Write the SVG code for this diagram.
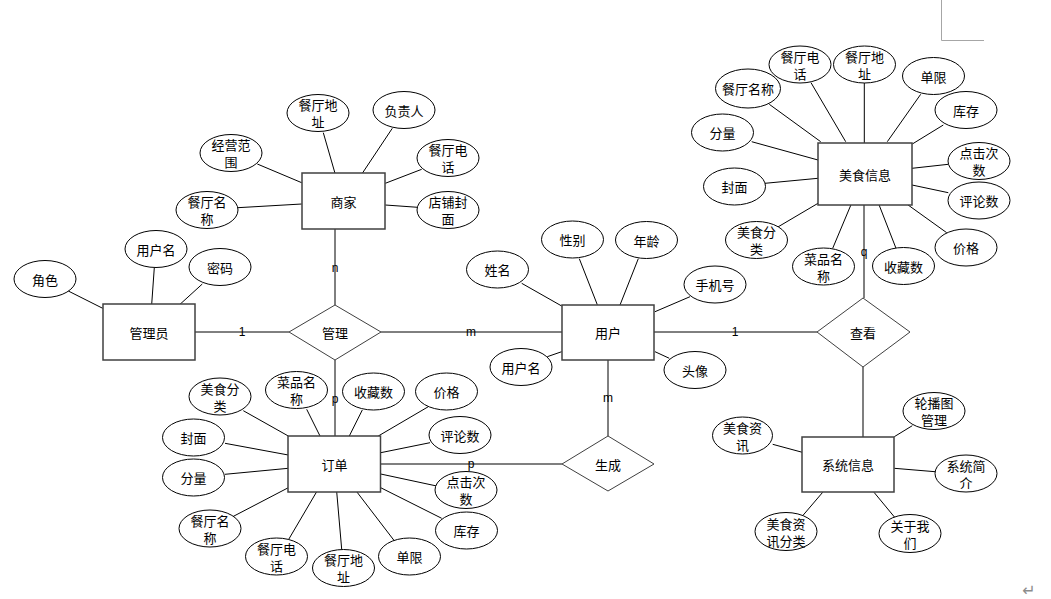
<svg xmlns="http://www.w3.org/2000/svg" width="1051" height="599" viewBox="0 0 1051 599">
<style>
  text { font-family: "Noto Sans CJK SC", "Liberation Sans", sans-serif; font-size: 13px; fill: #000; text-anchor: middle; dominant-baseline: central; }
  .ent rect { fill: #fff; stroke: #404040; stroke-width: 1.5; }
  .rel polygon { fill: #fff; stroke: #404040; stroke-width: 1; }
  .attr ellipse { fill: #fff; stroke: #000; stroke-width: 1; }
  #connectors line { stroke: #000; stroke-width: 1; }
  #connectors line.thick { stroke: #555; stroke-width: 1.5; }
  .card { font-family: "Liberation Sans", "DejaVu Sans", sans-serif; font-size: 12px; }
</style>
<rect width="1051" height="599" fill="#fff"/>
<path d="M941.5,0 V40.5 H984" fill="none" stroke="#a6a6a6" stroke-width="1"/>

<g id="connectors">
  <!-- relationship lines -->
  <line x1="195" y1="332" x2="289" y2="332"/>
  <line x1="381" y1="332" x2="562" y2="332"/>
  <line x1="335" y1="229" x2="335" y2="305"/>
  <line x1="335" y1="360" x2="335" y2="436"/>
  <line class="thick" x1="380.5" y1="464" x2="562" y2="464"/>
  <line x1="608" y1="360" x2="608" y2="436"/>
  <line x1="654" y1="332" x2="817" y2="332"/>
  <line x1="864" y1="205" x2="864" y2="298"/>
  <line class="thick" x1="863" y1="367" x2="863" y2="437"/>
  <!-- 商家 attributes -->
  <line x1="323.3" y1="132.7" x2="335" y2="173.3"/>
  <line x1="392.3" y1="128.3" x2="362.3" y2="173.3"/>
  <line x1="421.7" y1="169.3" x2="385.3" y2="183.3"/>
  <line x1="417.7" y1="207.3" x2="385.3" y2="205"/>
  <line x1="257.3" y1="164" x2="301.7" y2="182.7"/>
  <line x1="237.7" y1="207.7" x2="301.7" y2="204"/>
  <!-- 管理员 attributes -->
  <line x1="154.3" y1="267.7" x2="151.7" y2="304.3"/>
  <line x1="202.3" y1="284" x2="180" y2="304.3"/>
  <line x1="68.3" y1="291" x2="102.7" y2="308.3"/>
  <!-- 用户 attributes -->
  <line x1="521.7" y1="283.3" x2="561.7" y2="306"/>
  <line x1="579.3" y1="258.7" x2="597.3" y2="304.7"/>
  <line x1="638.3" y1="258.7" x2="620" y2="305"/>
  <line x1="690" y1="296.7" x2="655" y2="311.7"/>
  <line x1="547.3" y1="356.7" x2="561.7" y2="351.7"/>
  <line x1="669.3" y1="358.3" x2="655" y2="351.7"/>
  <!-- 美食信息 attributes -->
  <line x1="769.3" y1="104.3" x2="820.7" y2="141.7"/>
  <line x1="811" y1="82.7" x2="845.7" y2="141.7"/>
  <line x1="864.3" y1="83" x2="864.3" y2="143"/>
  <line x1="920.7" y1="94.3" x2="887.3" y2="141.7"/>
  <line x1="943.3" y1="125" x2="912.3" y2="144"/>
  <line x1="948.3" y1="164.3" x2="912" y2="168.3"/>
  <line x1="948.3" y1="192.7" x2="912" y2="185"/>
  <line x1="946.7" y1="232.7" x2="907.7" y2="204.7"/>
  <line x1="896" y1="248.3" x2="879" y2="204.7"/>
  <line x1="832.7" y1="248.3" x2="851" y2="204.7"/>
  <line x1="776.7" y1="227.7" x2="818" y2="203.3"/>
  <line x1="765" y1="183.3" x2="818" y2="178.3"/>
  <line x1="751.7" y1="141.7" x2="818" y2="160"/>
  <!-- 订单 attributes -->
  <line x1="243.3" y1="410.7" x2="288.3" y2="436"/>
  <line x1="306.7" y1="409.3" x2="320" y2="436"/>
  <line x1="362.3" y1="410" x2="349.3" y2="436"/>
  <line x1="428.3" y1="406.7" x2="378.3" y2="436"/>
  <line x1="430" y1="442.7" x2="380.7" y2="452.7"/>
  <line x1="436.7" y1="486" x2="380.7" y2="474"/>
  <line x1="441.7" y1="518.3" x2="380.7" y2="487.7"/>
  <line x1="395" y1="541.7" x2="356.7" y2="491.7"/>
  <line x1="341.7" y1="549.3" x2="336.7" y2="491.7"/>
  <line x1="288.3" y1="540" x2="316.7" y2="491.7"/>
  <line x1="232.7" y1="516.7" x2="288.3" y2="487.7"/>
  <line x1="225" y1="474.3" x2="288.3" y2="468.3"/>
  <line x1="225" y1="443.3" x2="288.3" y2="455"/>
  <!-- 系统信息 attributes -->
  <line x1="912.3" y1="425.7" x2="894.3" y2="436.7"/>
  <line x1="772.7" y1="444.3" x2="802.3" y2="452.3"/>
  <line x1="935" y1="471.7" x2="894.3" y2="468.3"/>
  <line x1="802.7" y1="515.7" x2="822.7" y2="492.3"/>
  <line x1="895" y1="517.7" x2="874" y2="492.3"/>
  <!-- cardinalities -->
  <text class="card" x="242" y="332">1</text>
  <text class="card" x="471" y="332">m</text>
  <text class="card" x="335" y="268">n</text>
  <text class="card" x="335" y="399">p</text>
  <text class="card" x="471" y="464">p</text>
  <text class="card" x="608" y="398">m</text>
  <text class="card" x="735" y="332">1</text>
  <text class="card" x="864" y="252">q</text>
</g>

<!-- Entities -->
<g id="e_merchant" class="ent"><rect x="302" y="173" width="83" height="56"/><text x="343.5" y="201">商家</text></g>
<g id="e_admin" class="ent"><rect x="103" y="304" width="92" height="56"/><text x="149" y="332">管理员</text></g>
<g id="e_user" class="ent"><rect x="562" y="305" width="92" height="55"/><text x="608" y="332">用户</text></g>
<g id="e_food" class="ent"><rect x="818" y="143" width="94" height="62"/><text x="865" y="174">美食信息</text></g>
<g id="e_order" class="ent"><rect x="288" y="436" width="92.5" height="56"/><text x="334.5" y="464">订单</text></g>
<g id="e_sys" class="ent"><rect x="802" y="437" width="92" height="55"/><text x="848" y="464.5">系统信息</text></g>

<!-- Relationships -->
<g id="r_manage" class="rel"><polygon points="289,332 335,305 381,332 335,360"/><text x="335" y="332">管理</text></g>
<g id="r_generate" class="rel"><polygon points="562,464 608,436 654,464 608,491"/><text x="608" y="464">生成</text></g>
<g id="r_view" class="rel"><polygon points="817,332 863,298 910,332 863,367"/><text x="863" y="332">查看</text></g>

<!-- 商家 attributes -->
<g id="a_m_addr" class="attr"><ellipse cx="318" cy="113" rx="31" ry="18.5"/><text x="318" y="104.5">餐厅地</text><text x="318" y="121.5">址</text></g>
<g id="a_m_owner" class="attr"><ellipse cx="404" cy="110" rx="31" ry="18.5"/><text x="404" y="110">负责人</text></g>
<g id="a_m_scope" class="attr"><ellipse cx="231" cy="153" rx="31" ry="18.5"/><text x="231" y="144.5">经营范</text><text x="231" y="161.5">围</text></g>
<g id="a_m_tel" class="attr"><ellipse cx="448" cy="158" rx="31" ry="18.5"/><text x="448" y="149.5">餐厅电</text><text x="448" y="166.5">话</text></g>
<g id="a_m_name" class="attr"><ellipse cx="207" cy="210" rx="31" ry="18.5"/><text x="207" y="201.5">餐厅名</text><text x="207" y="218.5">称</text></g>
<g id="a_m_cover" class="attr"><ellipse cx="448" cy="210" rx="31" ry="18.5"/><text x="448" y="201.5">店铺封</text><text x="448" y="218.5">面</text></g>

<!-- 管理员 attributes -->
<g id="a_a_user" class="attr"><ellipse cx="156" cy="249" rx="31" ry="18.5"/><text x="156" y="249">用户名</text></g>
<g id="a_a_pwd" class="attr"><ellipse cx="220" cy="267" rx="31" ry="18.5"/><text x="220" y="267">密码</text></g>
<g id="a_a_role" class="attr"><ellipse cx="45" cy="279" rx="31" ry="18.5"/><text x="45" y="279">角色</text></g>

<!-- 用户 attributes -->
<g id="a_u_name" class="attr"><ellipse cx="497.5" cy="269.5" rx="31" ry="18.5"/><text x="497.5" y="269.5">姓名</text></g>
<g id="a_u_sex" class="attr"><ellipse cx="572.5" cy="239.5" rx="31" ry="18.5"/><text x="572.5" y="239.5">性别</text></g>
<g id="a_u_age" class="attr"><ellipse cx="646.5" cy="240" rx="31" ry="18.5"/><text x="646.5" y="240">年龄</text></g>
<g id="a_u_phone" class="attr"><ellipse cx="715" cy="284.5" rx="31" ry="18.5"/><text x="715" y="284.5">手机号</text></g>
<g id="a_u_uname" class="attr"><ellipse cx="521" cy="367" rx="31" ry="18.5"/><text x="521" y="367">用户名</text></g>
<g id="a_u_avatar" class="attr"><ellipse cx="695" cy="370" rx="31" ry="18.5"/><text x="695" y="370">头像</text></g>

<!-- 美食信息 attributes -->
<g id="a_f_rname" class="attr"><ellipse cx="748" cy="88.5" rx="32.5" ry="19.5"/><text x="748" y="88.5">餐厅名称</text></g>
<g id="a_f_tel" class="attr"><ellipse cx="800" cy="64.5" rx="31" ry="18.5"/><text x="800" y="56">餐厅电</text><text x="800" y="73">话</text></g>
<g id="a_f_addr" class="attr"><ellipse cx="864.5" cy="64.5" rx="31" ry="18.5"/><text x="864.5" y="56">餐厅地</text><text x="864.5" y="73">址</text></g>
<g id="a_f_limit" class="attr"><ellipse cx="933.5" cy="76" rx="31" ry="18.5"/><text x="933.5" y="76">单限</text></g>
<g id="a_f_stock" class="attr"><ellipse cx="966" cy="110" rx="31" ry="18.5"/><text x="966" y="110">库存</text></g>
<g id="a_f_clicks" class="attr"><ellipse cx="979" cy="161" rx="31" ry="18.5"/><text x="979" y="152.5">点击次</text><text x="979" y="169.5">数</text></g>
<g id="a_f_reviews" class="attr"><ellipse cx="979" cy="200.5" rx="31" ry="18.5"/><text x="979" y="200.5">评论数</text></g>
<g id="a_f_price" class="attr"><ellipse cx="966" cy="247.5" rx="31" ry="18.5"/><text x="966" y="247.5">价格</text></g>
<g id="a_f_fav" class="attr"><ellipse cx="903.5" cy="266" rx="31" ry="18.5"/><text x="903.5" y="266">收藏数</text></g>
<g id="a_f_dish" class="attr"><ellipse cx="823.5" cy="266.5" rx="31" ry="18.5"/><text x="823.5" y="258">菜品名</text><text x="823.5" y="275">称</text></g>
<g id="a_f_cat" class="attr"><ellipse cx="756.5" cy="240" rx="31" ry="18.5"/><text x="756.5" y="231.5">美食分</text><text x="756.5" y="248.5">类</text></g>
<g id="a_f_cover" class="attr"><ellipse cx="734.5" cy="186.5" rx="31" ry="18.5"/><text x="734.5" y="186.5">封面</text></g>
<g id="a_f_portion" class="attr"><ellipse cx="722.5" cy="132.5" rx="31" ry="18.5"/><text x="722.5" y="132.5">分量</text></g>

<!-- 订单 attributes -->
<g id="a_o_cat" class="attr"><ellipse cx="220" cy="396.5" rx="31" ry="18.5"/><text x="220" y="388">美食分</text><text x="220" y="405">类</text></g>
<g id="a_o_dish" class="attr"><ellipse cx="296.5" cy="390" rx="31" ry="18.5"/><text x="296.5" y="381.5">菜品名</text><text x="296.5" y="398.5">称</text></g>
<g id="a_o_fav" class="attr"><ellipse cx="373.5" cy="391.5" rx="31" ry="18.5"/><text x="373.5" y="391.5">收藏数</text></g>
<g id="a_o_price" class="attr"><ellipse cx="446.5" cy="391.5" rx="31" ry="18.5"/><text x="446.5" y="391.5">价格</text></g>
<g id="a_o_reviews" class="attr"><ellipse cx="460" cy="435" rx="31" ry="18.5"/><text x="460" y="435">评论数</text></g>
<g id="a_o_clicks" class="attr"><ellipse cx="466" cy="490" rx="31" ry="18.5"/><text x="466" y="481.5">点击次</text><text x="466" y="498.5">数</text></g>
<g id="a_o_stock" class="attr"><ellipse cx="466.5" cy="530.5" rx="31" ry="18.5"/><text x="466.5" y="530.5">库存</text></g>
<g id="a_o_limit" class="attr"><ellipse cx="409.5" cy="556.5" rx="31" ry="18.5"/><text x="409.5" y="556.5">单限</text></g>
<g id="a_o_addr" class="attr"><ellipse cx="343.5" cy="568" rx="31" ry="18.5"/><text x="343.5" y="559.5">餐厅地</text><text x="343.5" y="576.5">址</text></g>
<g id="a_o_tel" class="attr"><ellipse cx="276.5" cy="556.5" rx="31" ry="18.5"/><text x="276.5" y="548">餐厅电</text><text x="276.5" y="565">话</text></g>
<g id="a_o_rname" class="attr"><ellipse cx="210" cy="528.5" rx="31" ry="18.5"/><text x="210" y="520">餐厅名</text><text x="210" y="537">称</text></g>
<g id="a_o_portion" class="attr"><ellipse cx="193.5" cy="477.5" rx="31" ry="18.5"/><text x="193.5" y="477.5">分量</text></g>
<g id="a_o_cover" class="attr"><ellipse cx="193.5" cy="437.5" rx="31" ry="18.5"/><text x="193.5" y="437.5">封面</text></g>

<!-- 系统信息 attributes -->
<g id="a_s_banner" class="attr"><ellipse cx="934" cy="411" rx="31" ry="18.5"/><text x="934" y="402.5">轮播图</text><text x="934" y="419.5">管理</text></g>
<g id="a_s_news" class="attr"><ellipse cx="742.5" cy="435.5" rx="30" ry="18.5"/><text x="742.5" y="427">美食资</text><text x="742.5" y="444">讯</text></g>
<g id="a_s_intro" class="attr"><ellipse cx="966" cy="473.5" rx="31" ry="18.5"/><text x="966" y="465">系统简</text><text x="966" y="482">介</text></g>
<g id="a_s_newscat" class="attr"><ellipse cx="786" cy="531.5" rx="31" ry="19"/><text x="786" y="523">美食资</text><text x="786" y="540">讯分类</text></g>
<g id="a_s_about" class="attr"><ellipse cx="910" cy="533.5" rx="31" ry="19"/><text x="910" y="525">关于我</text><text x="910" y="542">们</text></g>

<text x="1029" y="590" style="font-family: 'DejaVu Sans', sans-serif; font-size: 16px; fill: #8c8c8c;">↵</text>
</svg>
